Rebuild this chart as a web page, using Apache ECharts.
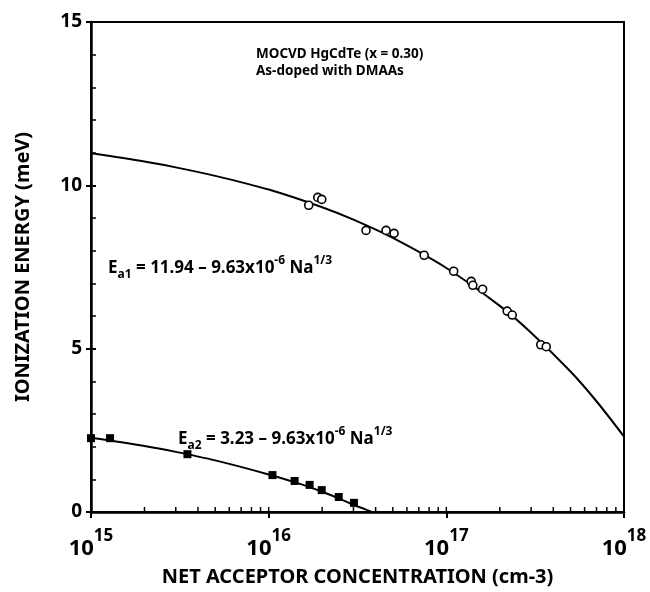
<!DOCTYPE html>
<html>
<head>
<meta charset="utf-8">
<script src="https://cdn.jsdelivr.net/npm/echarts@6/dist/echarts.min.js"></script>
<style>
  html, body { margin: 0; padding: 0; background: #fff; }
  #chart { width: 650px; height: 592px; }
</style>
</head>
<body>
<div id="chart"></div>
<script>
// data
const xTickExps = ['15', '16', '17', '18']
const yTicks = [0, 5, 10, 15]

// Ea1 open circles  [Na (cm-3), E (meV)]
const ea1Points = [
  [1.68e16, 9.39], [1.89e16, 9.63], [1.99e16, 9.57],
  [3.53e16, 8.62], [4.58e16, 8.62], [5.08e16, 8.53],
  [7.5e16, 7.86], [1.10e17, 7.37], [1.38e17, 7.06], [1.41e17, 6.94],
  [1.60e17, 6.82], [2.2e17, 6.15], [2.35e17, 6.03],
  [3.4e17, 5.12], [3.65e17, 5.06]
]
// Ea1 fitted curve
const ea1Fit = [
  [1e15, 10.98], [2e15, 10.73], [3e15, 10.55], [5e15, 10.29], [1e16, 9.87],
  [2e16, 9.33], [3e16, 8.95], [5e16, 8.39], [1e17, 7.47], [2e17, 6.31],
  [3e17, 5.49], [5e17, 4.30], [7e17, 3.39], [1e18, 2.31]
]
// Ea2 filled squares
const ea2Points = [
  [1e15, 2.26], [1.28e15, 2.26], [3.49e15, 1.77], [1.05e16, 1.13],
  [1.40e16, 0.95], [1.70e16, 0.83], [1.99e16, 0.67], [2.48e16, 0.46], [3.02e16, 0.28]
]
// Ea2 fitted curve
const ea2Fit = [
  [1e15, 2.27], [2e15, 2.02], [3e15, 1.84], [5e15, 1.58], [1e16, 1.15],
  [1.5e16, 0.86], [2e16, 0.62], [2.5e16, 0.41], [3e16, 0.22], [3.5e16, 0.08], [3.8e16, 0]
]
// minor ticks of the log axis
const xMinorTicks = [
  2e15, 3e15, 4e15, 5e15, 6e15, 7e15, 8e15, 9e15, 1e16,
  2e16, 3e16, 4e16, 5e16, 6e16, 7e16, 8e16, 9e16, 1e17,
  2e17, 3e17, 4e17, 5e17, 6e17, 7e17, 8e17, 9e17
]

const font = 'Noto Sans'
const eqRich = {
  t: { fontFamily: font, fontWeight: 'bold', fontSize: 17, fill: '#000', lineHeight: 26, verticalAlign: 'middle' },
  sub: { fontFamily: font, fontWeight: 'bold', fontSize: 12, fill: '#000', lineHeight: 26, verticalAlign: 'bottom' },
  sup: { fontFamily: font, fontWeight: 'bold', fontSize: 12, fill: '#000', lineHeight: 26, verticalAlign: 'top' }
}

const chart = echarts.init(document.getElementById('chart'))

chart.setOption({
  animation: false,
  backgroundColor: '#fff',
  grid: {
    left: 91,
    right: 26,
    top: 22,
    bottom: 79,
    show: true,
    borderColor: '#000',
    borderWidth: 2
  },
  xAxis: {
    type: 'log',
    logBase: 10,
    min: 1e15,
    max: 1e18,
    name: 'NET ACCEPTOR CONCENTRATION (cm-3)',
    nameLocation: 'middle',
    nameGap: 55,
    nameTextStyle: { color: '#000', fontFamily: font, fontWeight: 'bold', fontSize: 20 },
    axisLine: { lineStyle: { color: '#000', width: 2.5 } },
    axisTick: { length: 6, lineStyle: { color: '#000', width: 2 } },
    splitLine: { show: false },
    axisLabel: {
      margin: 16,
      formatter (v) {
        const i = Math.round(Math.log10(v)) - 15
        return '{b|10}{s|' + xTickExps[i] + '}'
      },
      rich: {
        b: { fontFamily: font, fontWeight: 'bold', fontSize: 22, color: '#000', lineHeight: 32, verticalAlign: 'bottom' },
        s: { fontFamily: font, fontWeight: 'bold', fontSize: 17, color: '#000', lineHeight: 32, verticalAlign: 'top' }
      }
    }
  },
  yAxis: [
    {
      type: 'value',
      min: yTicks[0],
      max: yTicks[yTicks.length - 1],
      interval: 5,
      name: 'IONIZATION ENERGY (meV)',
      nameLocation: 'middle',
      nameGap: 58,
      nameTextStyle: { color: '#000', fontFamily: font, fontWeight: 'bold', fontSize: 20 },
      axisLine: { lineStyle: { color: '#000', width: 2.5 } },
      axisTick: { inside: true, length: 5, lineStyle: { color: '#000', width: 2 } },
      minorTick: { show: true, splitNumber: 5, length: 5, lineStyle: { color: '#000', width: 1.5 } },
      splitLine: { show: false },
      axisLabel: { color: '#000', fontFamily: font, fontWeight: 'bold', fontSize: 19, margin: 9 }
    },
    {
      // outward part of the major ticks
      type: 'value',
      position: 'left',
      min: yTicks[0],
      max: yTicks[yTicks.length - 1],
      interval: 5,
      axisLine: { show: false },
      axisTick: { length: 5, lineStyle: { color: '#000', width: 2 } },
      axisLabel: { show: false },
      splitLine: { show: false }
    }
  ],
  graphic: [
    {
      type: 'text',
      left: 256,
      top: 46,
      style: {
        text: 'MOCVD HgCdTe (x = 0.30)\nAs-doped with DMAAs',
        fontFamily: font,
        fontWeight: 'bold',
        fontSize: 13.5,
        lineHeight: 17,
        fill: '#000'
      }
    },
    {
      type: 'text',
      left: 108,
      top: 255,
      style: {
        text: '{t|E}{sub|a1}{t| = 11.94 – 9.63x10}{sup|-6}{t| Na}{sup|1/3}',
        rich: eqRich
      }
    },
    {
      type: 'text',
      left: 178,
      top: 426,
      style: {
        text: '{t|E}{sub|a2}{t| = 3.23 – 9.63x10}{sup|-6}{t| Na}{sup|1/3}',
        rich: eqRich
      }
    }
  ],
  series: [
    {
      name: 'Ea1 fit',
      type: 'line',
      data: ea1Fit,
      smooth: 0.3,
      showSymbol: false,
      lineStyle: { color: '#000', width: 2 },
      silent: true
    },
    {
      name: 'Ea2 fit',
      type: 'line',
      data: ea2Fit,
      smooth: 0.3,
      showSymbol: false,
      lineStyle: { color: '#000', width: 2 },
      silent: true
    },
    {
      name: 'Ea1',
      type: 'scatter',
      data: ea1Points,
      symbol: 'circle',
      symbolSize: 8,
      itemStyle: { color: '#fff', borderColor: '#000', borderWidth: 1.6, opacity: 1 },
      z: 5
    },
    {
      name: 'Ea2',
      type: 'scatter',
      data: ea2Points,
      symbol: 'rect',
      symbolSize: 8,
      itemStyle: { color: '#000', opacity: 1 },
      z: 5
    },
    {
      name: 'minor ticks',
      type: 'scatter',
      data: xMinorTicks.map(v => [v, 0]),
      symbol: 'rect',
      symbolSize: [1.5, 5],
      symbolOffset: [0, -2.5],
      itemStyle: { color: '#000', opacity: 1 },
      silent: true,
      z: 6
    }
  ]
})
</script>
</body>
</html>
